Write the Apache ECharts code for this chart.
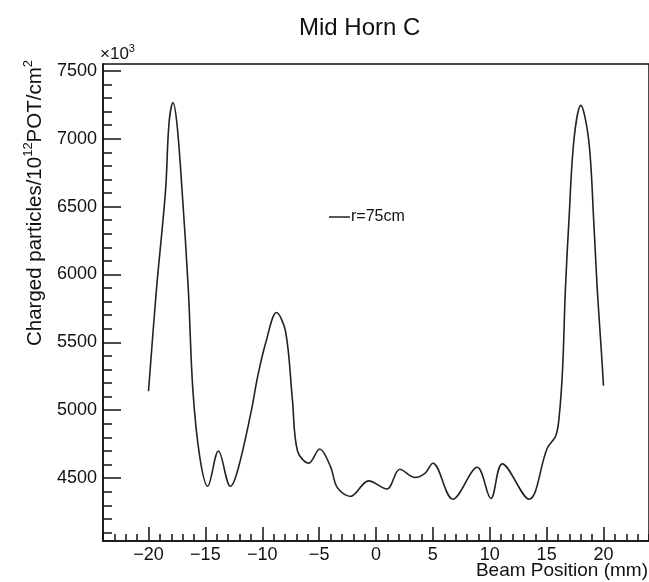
<!DOCTYPE html>
<html>
<head>
<meta charset="utf-8">
<script src="https://cdn.jsdelivr.net/npm/echarts@6/dist/echarts.min.js"></script>
<style>html,body{margin:0;padding:0;background:#fff}#c{width:649px;height:582px}</style>
</head>
<body>
<div id="c"></div>
<script>
// Data (x in mm, y in units of 10^3 charged particles/10^12POT/cm^2)
var beamPos = [-20, -19.3, -18.5, -18.2, -17.85, -17.5, -17.05, -16.5, -16.1, -15.5, -14.8, -13.85, -12.8, -12.15, -11.0, -10.4, -9.7, -8.75, -7.95, -7.35, -6.9, -5.9, -4.95, -4.0, -3.4, -2.25, -0.65, 0.95, 2.1, 3.4, 4.3, 5.0, 6.75, 8.9, 10.1, 11.1, 13.45, 15.05, 15.8, 16.1, 16.4, 16.65, 16.95, 17.4, 18.0, 18.7, 19.15, 19.45, 19.8, 20.0];
var particles = [5140, 5890, 6620, 7110, 7265, 7110, 6620, 5890, 5150, 4660, 4440, 4700, 4440, 4560, 4980, 5250, 5495, 5720, 5580, 5080, 4700, 4610, 4715, 4585, 4430, 4365, 4480, 4420, 4565, 4505, 4535, 4610, 4345, 4580, 4350, 4605, 4345, 4720, 4810, 4950, 5300, 5890, 6380, 6990, 7245, 6990, 6380, 5890, 5450, 5180];
var xMajorTicks = [-20, -15, -10, -5, 0, 5, 10, 15, 20];
var yMajorTicks = [4500, 5000, 5500, 6000, 6500, 7000, 7500];
var seriesName = 'r=75cm';
var chartTitle = 'Mid Horn C';
var xTitle = 'Beam Position (mm)';

var xMinor = [];
for (var i = -24; i <= 24; i++) xMinor.push(i);
var yMinor = [];
for (var v = 4100; v <= 7500; v += 100) yMinor.push(v);

var pts = beamPos.map(function (x, k) { return [x, particles[k]]; });
var FONT = "'Liberation Sans', Arial, Helvetica, sans-serif";
var INK = '#111';
var XMIN = -24, XMAX = 24, YMIN = 4037, YMAX = 7550;

function minusFmt(val) { return String(val).replace('-', '\u2212'); }
function plainFmt(val) { return String(val); }

var chart = echarts.init(document.getElementById('c'), null, {renderer: 'canvas'});
chart.setOption({
  animation: false,
  backgroundColor: '#fff',
  title: {
    text: chartTitle, left: 294, top: 11,
    textStyle: {fontFamily: FONT, fontSize: 24, fontWeight: 'normal', color: INK}
  },
  legend: {
    data: [seriesName], left: 324, top: 204, icon: 'rect', itemWidth: 21, itemHeight: 1.5,
    itemGap: 0,
    textStyle: {fontFamily: FONT, fontSize: 16, color: INK, padding: [0, 0, 0, -4]}
  },
  grid: {left: 103, top: 64, right: -2, bottom: 41, show: true, borderColor: '#111', borderWidth: 1.5, containLabel: false},
  xAxis: [{
    type: 'value', min: XMIN, max: XMAX, position: 'bottom',
    axisLine: {show: true, onZero: false, lineStyle: {color: '#111', width: 1.5}},
    axisTick: {show: true, inside: true, length: 14, customValues: xMajorTicks, lineStyle: {color: '#111', width: 1.5}},
    axisLabel: {show: true, customValues: xMajorTicks, margin: 5, fontFamily: FONT, fontSize: 18, color: INK, formatter: minusFmt},
    splitLine: {show: false}
  }, {
    type: 'value', min: XMIN, max: XMAX, position: 'bottom',
    axisLine: {show: false, onZero: false},
    axisTick: {show: true, inside: true, length: 7, customValues: xMinor, lineStyle: {color: '#111', width: 1.5}},
    axisLabel: {show: false},
    splitLine: {show: false}
  }],
  yAxis: [{
    type: 'value', min: YMIN, max: YMAX, position: 'left',
    axisLine: {show: true, onZero: false, lineStyle: {color: '#111', width: 1.5}},
    axisTick: {show: true, inside: true, length: 18, customValues: yMajorTicks, lineStyle: {color: '#111', width: 1.5}},
    axisLabel: {show: true, customValues: yMajorTicks, margin: 6, fontFamily: FONT, fontSize: 18, color: INK, formatter: plainFmt},
    splitLine: {show: false}
  }, {
    type: 'value', min: YMIN, max: YMAX, position: 'left',
    axisLine: {show: false, onZero: false},
    axisTick: {show: true, inside: true, length: 9, customValues: yMinor, lineStyle: {color: '#111', width: 1.5}},
    axisLabel: {show: false},
    splitLine: {show: false}
  }],
  graphic: [{
    type: 'text', x: 34, y: 60, rotation: Math.PI / 2,
    style: {
      text: '{n|Charged particles/10}{s|12}{n|POT/cm}{s|2}',
      align: 'right', verticalAlign: 'middle',
      rich: {
        n: {fontFamily: FONT, fontSize: 20.5, fill: INK, color: INK, verticalAlign: 'bottom', lineHeight: 24},
        s: {fontFamily: FONT, fontSize: 13, fill: INK, color: INK, verticalAlign: 'top', lineHeight: 24}
      }
    }
  }, {
    type: 'text', x: 648, y: 571,
    style: {text: xTitle, align: 'right', verticalAlign: 'middle', font: '19px ' + FONT, fill: INK}
  }, {
    type: 'text', x: 100, y: 53,
    style: {
      text: '{n|\u00d710}{s|3}', align: 'left', verticalAlign: 'middle',
      rich: {
        n: {fontFamily: FONT, fontSize: 17, fill: INK, color: INK, verticalAlign: 'bottom', lineHeight: 20},
        s: {fontFamily: FONT, fontSize: 11, fill: INK, color: INK, verticalAlign: 'top', lineHeight: 20}
      }
    }
  }],
  series: [{
    name: seriesName, type: 'line', xAxisIndex: 0, yAxisIndex: 0,
    data: pts, smooth: 0.35, showSymbol: false, symbol: 'none',
    lineStyle: {color: '#222', width: 1.6},
    itemStyle: {color: '#222'}
  }]
});
</script>
</body>
</html>
